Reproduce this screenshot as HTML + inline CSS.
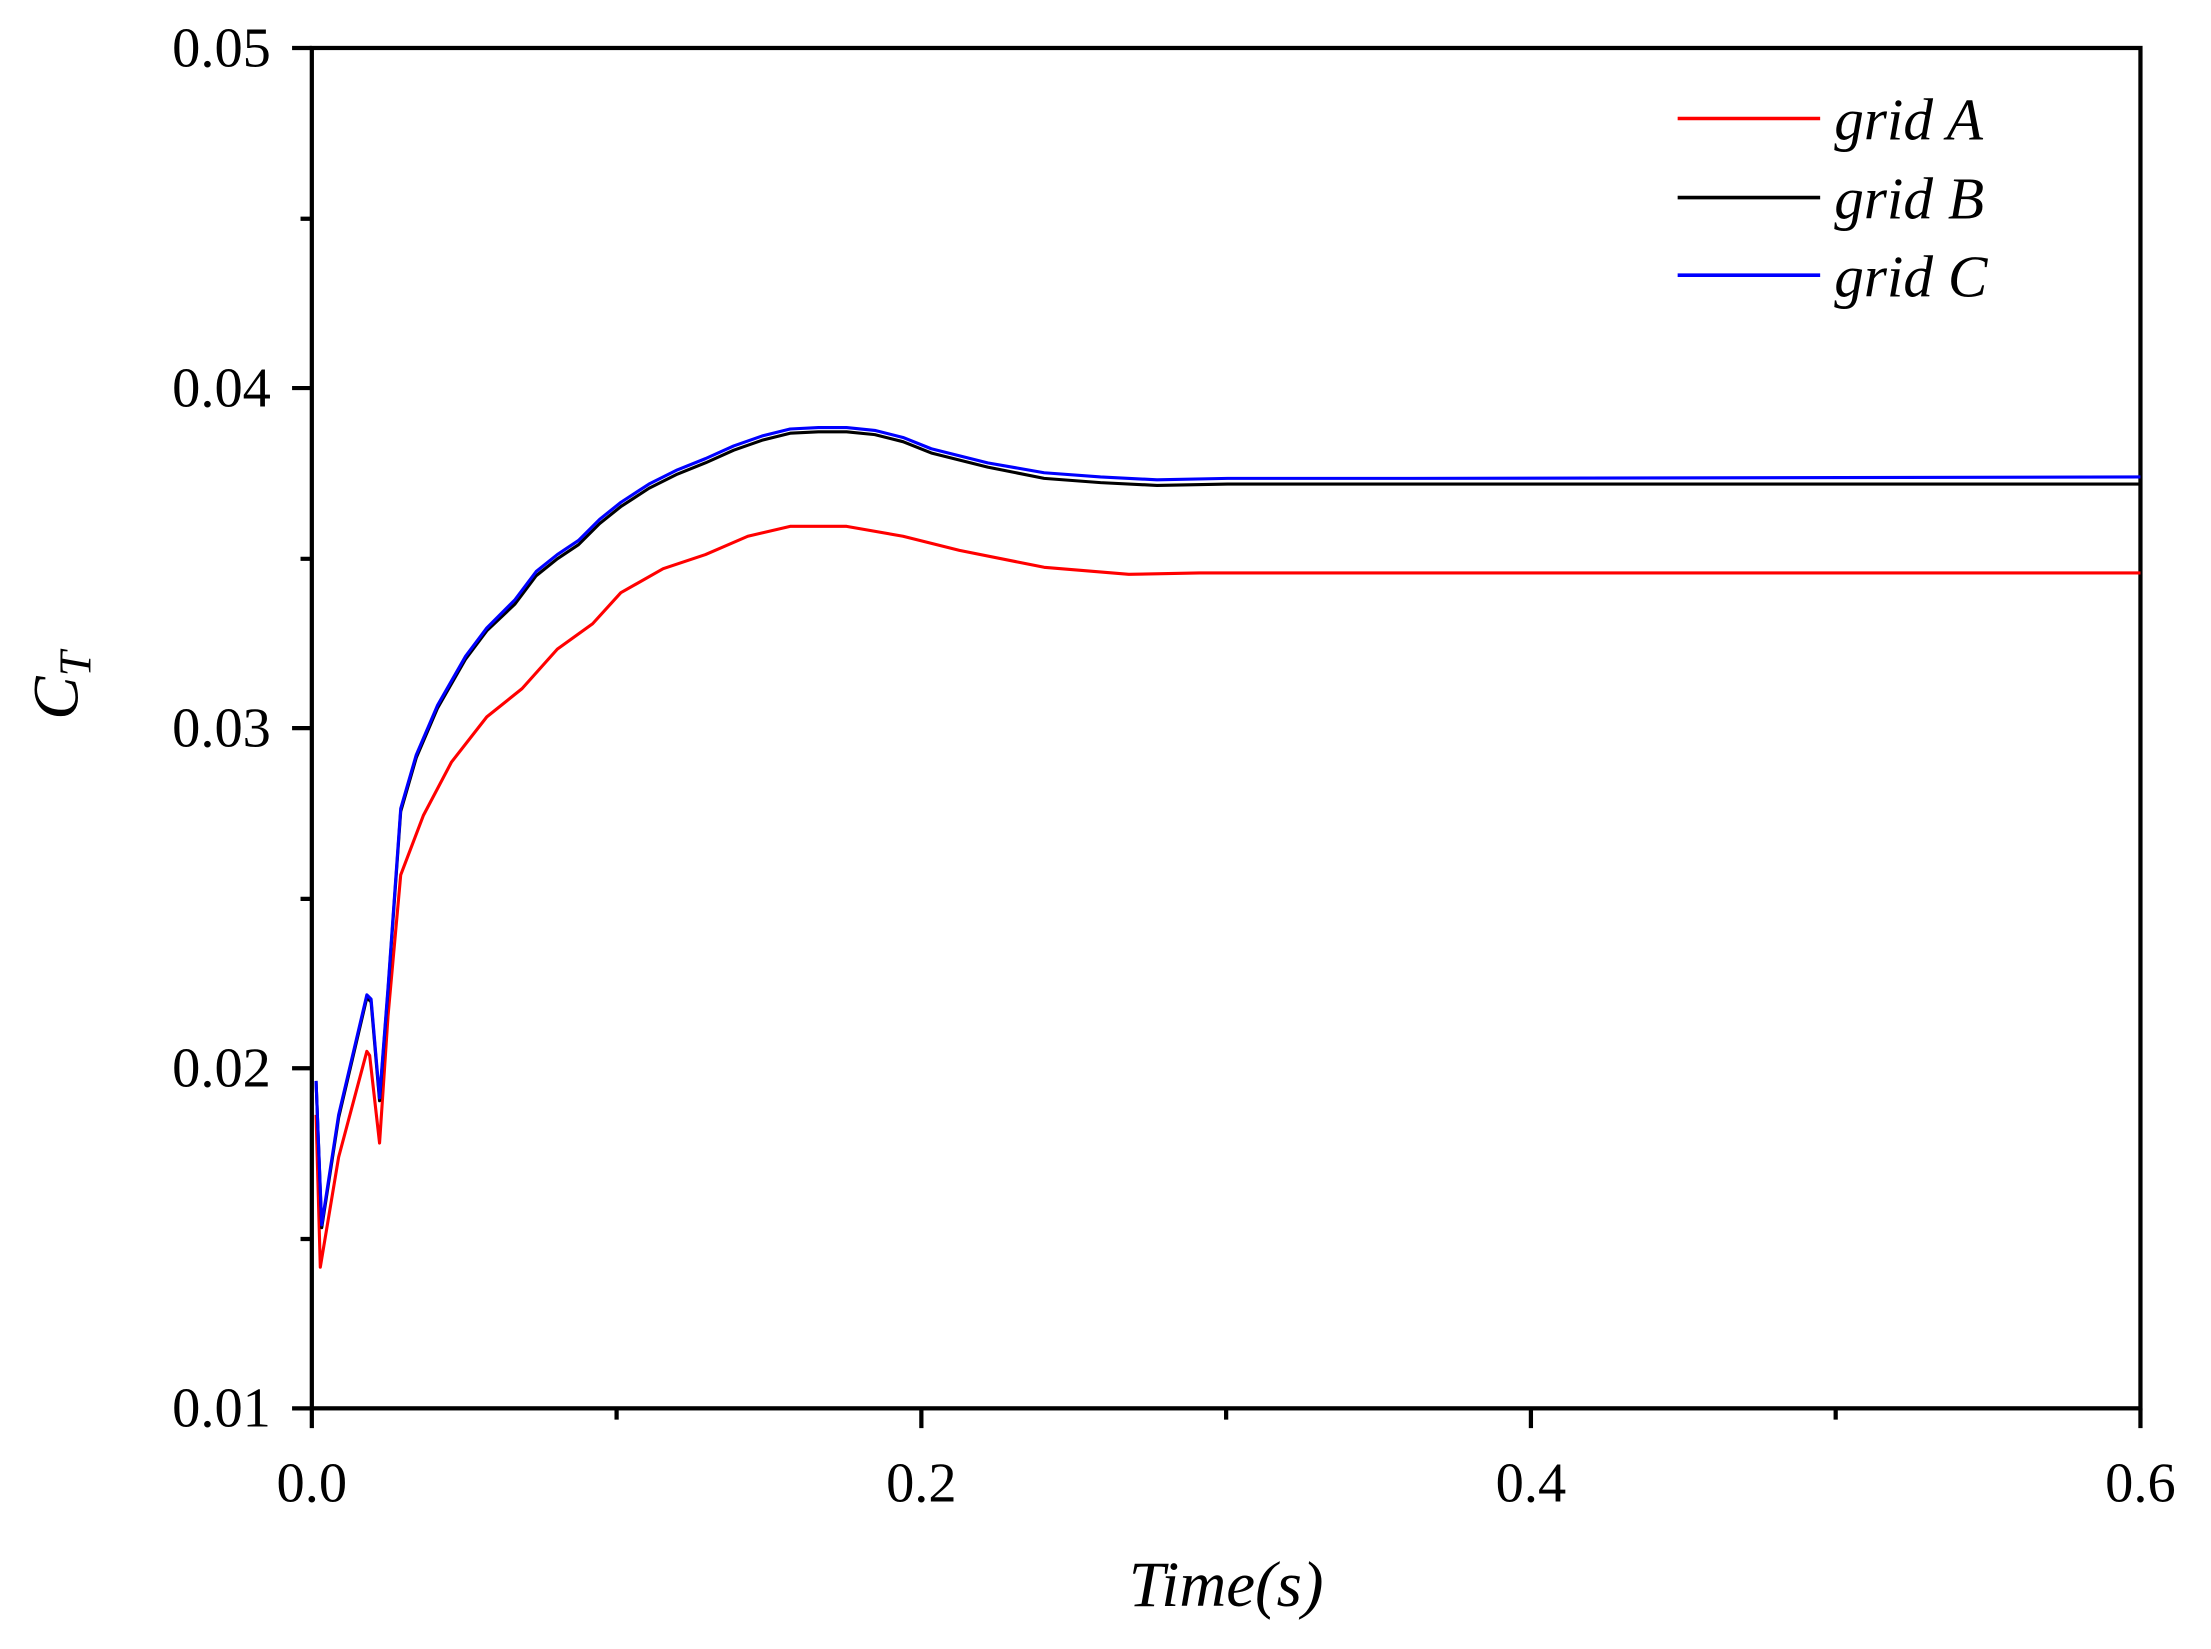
<!DOCTYPE html>
<html><head><style>html,body{margin:0;padding:0;background:#fff}</style></head><body>
<svg width="2211" height="1644" viewBox="0 0 1567 1165" preserveAspectRatio="none" xmlns="http://www.w3.org/2000/svg" font-family="Liberation Serif, serif">
<rect x="0" y="0" width="1567" height="1165" fill="#fff"/>
<g stroke="#000" stroke-width="3" fill="none">
<rect x="221" y="34" width="1296" height="964"/>
<path d="M221 34h-14M221 275h-14M221 516h-14M221 757h-14M221 998h-14M221 155h-8M221 396h-8M221 637h-8M221 878h-8"/>
<path d="M221 998v14M653 998v14M1085 998v14M1517 998v14M437 998v8M869 998v8M1301 998v8"/>
</g>
<g font-size="40" text-anchor="end">
<text x="192" y="47">0.05</text><text x="192" y="288">0.04</text><text x="192" y="529">0.03</text><text x="192" y="770">0.02</text><text x="192" y="1011">0.01</text>
</g>
<g font-size="40" text-anchor="middle">
<text x="221" y="1064">0.0</text><text x="653" y="1064">0.2</text><text x="1085" y="1064">0.4</text><text x="1517" y="1064">0.6</text>
</g>
<text x="869" y="1138" font-size="46" font-style="italic" text-anchor="middle">Time(s)</text>
<text transform="translate(55,510) rotate(-90)" font-size="46" font-style="italic">C<tspan font-size="32" dy="9">T</tspan></text>
<g fill="none" stroke-width="2.2" stroke-linejoin="round">
<polyline stroke="#ff0000" points="224,790 227,898 240,820 260,745 262,748 269,810 275,720 284,620 300,578 320,540 345,508 370,488 395,460 420,442 440,420 470,403 500,393 530,380 560,373 600,373 640,380 680,390 740,402 800,407 850,406 1200,406 1517,406"/>
<polyline stroke="#000" points="224,766 228,870 240,792 260,707 263,710 269,780 275,702 284,575 295,537 310,502 330,467 345,447 365,428 380,408 395,396 410,386 425,371 440,359 460,346 480,336 500,328 520,319 540,312 560,307 580,306 600,306 620,308 640,313 660,321 700,331 740,339 780,342 820,344 870,343 1000,343 1517,343"/>
<polyline stroke="#0000ff" points="224,766 228,868 240,790 260,705 263,708 269,778 275,700 284,573 295,535 310,500 330,465 345,445 365,425 380,405 395,393 410,383 425,368 440,356 460,343 480,333 500,325 520,316 540,309 560,304 580,303 600,303 620,305 640,310 660,318 700,328 740,335 780,338 820,340 870,339 1000,339 1517,338"/>
</g>
<g stroke-width="2.5">
<line x1="1189" y1="84" x2="1290" y2="84" stroke="#ff0000"/>
<line x1="1189" y1="140" x2="1290" y2="140" stroke="#000"/>
<line x1="1189" y1="195" x2="1290" y2="195" stroke="#0000ff"/>
</g>
<g font-size="42" font-style="italic">
<text x="1300" y="99">grid A</text><text x="1300" y="155">grid B</text><text x="1300" y="210">grid C</text>
</g>
</svg>
</body></html>
